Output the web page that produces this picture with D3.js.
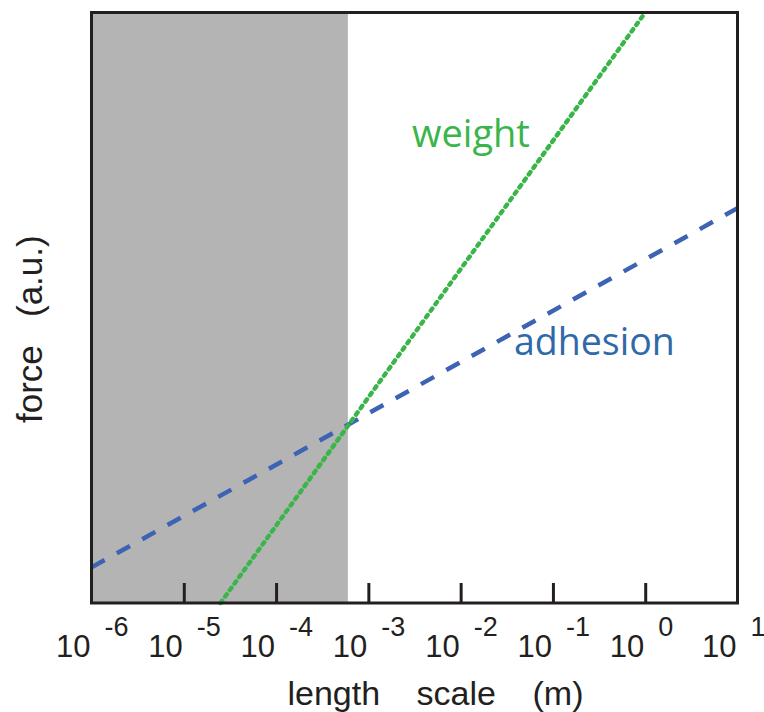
<!DOCTYPE html>
<html>
<head>
<meta charset="utf-8">
<script src="https://cdn.jsdelivr.net/npm/d3@7"></script>
<style>
  body { margin: 0; background: #fff; }
  svg { display: block; }
</style>
</head>
<body>
<div id="chart"></div>
<script>
// length scale decades shown on the x axis (powers of ten)
var decades = [-6, -5, -4, -3, -2, -1, 0, 1];

// force curves, [length (m), force (a.u.)] end points
var weight = [[2.5e-5, 1], [1, 1e14]];
var adhesion = [[1e-6, 7], [10, 2.3e9]];

// lengths below this one: adhesion wins (shaded)
var shadedLimit = 6e-4;

var seriesLabels = ["weight", "adhesion"];

var margin = {top: 12.5, right: 26.5, bottom: 109, left: 91.5},
    width = 764 - margin.left - margin.right,
    height = 712 - margin.top - margin.bottom;

var svg = d3.select("#chart")
    .append("svg")
    .attr("width", 764)
    .attr("height", 712)
    .append("g")
    .attr("transform", "translate(" + margin.left + "," + margin.top + ")");

var xScale = d3.scaleLog()
    .domain([1e-6, 10])
    .range([0, width]);

var yScale = d3.scaleLog()
    .domain([1, 1e14])
    .range([height, 0]);

var frameColor = "#231f20";

// grey zone on the small-length side
svg.append("rect")
    .attr("x", 0)
    .attr("y", 0)
    .attr("width", xScale(shadedLimit))
    .attr("height", height)
    .attr("fill", "#b3b4b3");

var line = d3.line()
    .x(function(d) { return xScale(d[0]); })
    .y(function(d) { return yScale(d[1]); });

// adhesion - dashed blue
svg.append("path")
    .datum(adhesion)
    .attr("d", line)
    .attr("fill", "none")
    .attr("stroke", "#3c63b4")
    .attr("stroke-width", 4.5)
    .attr("stroke-dasharray", "15,14");

// weight - dotted green
svg.append("path")
    .datum(weight)
    .attr("d", line)
    .attr("fill", "none")
    .attr("stroke", "#3ab54a")
    .attr("stroke-width", 4.4)
    .attr("stroke-linecap", "round")
    .attr("stroke-dasharray", "2.8,5.2");

// inner ticks on the bottom axis
svg.append("g")
    .attr("transform", "translate(0," + height + ")")
    .call(d3.axisBottom(xScale)
        .tickValues(decades.slice(1, -1).map(function(d) { return Math.pow(10, d); }))
        .tickSizeInner(-20)
        .tickSizeOuter(0)
        .tickFormat(""))
    .call(function(g) {
        g.select(".domain").remove();
        g.selectAll(".tick line").attr("stroke", frameColor).attr("stroke-width", 3);
    });

// frame
svg.append("rect")
    .attr("x", 0)
    .attr("y", 0)
    .attr("width", width)
    .attr("height", height)
    .attr("fill", "none")
    .attr("stroke", frameColor)
    .attr("stroke-width", 3);

// tick labels: 10 with exponent
var labels = svg.append("g")
    .attr("font-family", "'Liberation Sans', Arial, sans-serif")
    .attr("fill", frameColor);

labels.selectAll("text.base")
    .data(decades)
    .enter()
    .append("text")
    .attr("class", "base")
    .attr("x", function(d) { return xScale(Math.pow(10, d)) - 1; })
    .attr("y", height + 54)
    .attr("text-anchor", "end")
    .attr("font-size", 31)
    .text("10");

labels.selectAll("text.exp")
    .data(decades)
    .enter()
    .append("text")
    .attr("class", "exp")
    .attr("x", function(d) { return xScale(Math.pow(10, d)) + 13; })
    .attr("y", height + 33)
    .attr("font-size", 27)
    .text(function(d) { return d < 0 ? "-" + Math.abs(d) : d; });

// axis titles
var xTitle = labels.append("text")
    .attr("y", height + 102)
    .attr("font-size", 34);
xTitle.append("tspan").attr("x", 196).text("length");
xTitle.append("tspan").attr("x", 325).text("scale");
xTitle.append("tspan").attr("x", 441).text("(m)");

var yTitle = labels.append("text")
    .attr("transform", "translate(" + (42 - margin.left) + "," + (423 - margin.top) + ") rotate(-90)")
    .attr("font-size", 35);
yTitle.append("tspan").attr("x", 0).text("force");
yTitle.append("tspan").attr("x", 106).text("(a.u.)");

// series labels
svg.append("text")
    .attr("x", 412 - margin.left)
    .attr("y", 147 - margin.top)
    .attr("font-family", "'Open Sans', sans-serif")
    .attr("font-size", 38)
    .attr("fill", "#3ab54a")
    .text(seriesLabels[0]);

svg.append("text")
    .attr("x", 514 - margin.left)
    .attr("y", 355 - margin.top)
    .attr("font-family", "'Open Sans', sans-serif")
    .attr("font-size", 37.5)
    .attr("fill", "#2f6aa8")
    .text(seriesLabels[1]);
</script>
</body>
</html>
